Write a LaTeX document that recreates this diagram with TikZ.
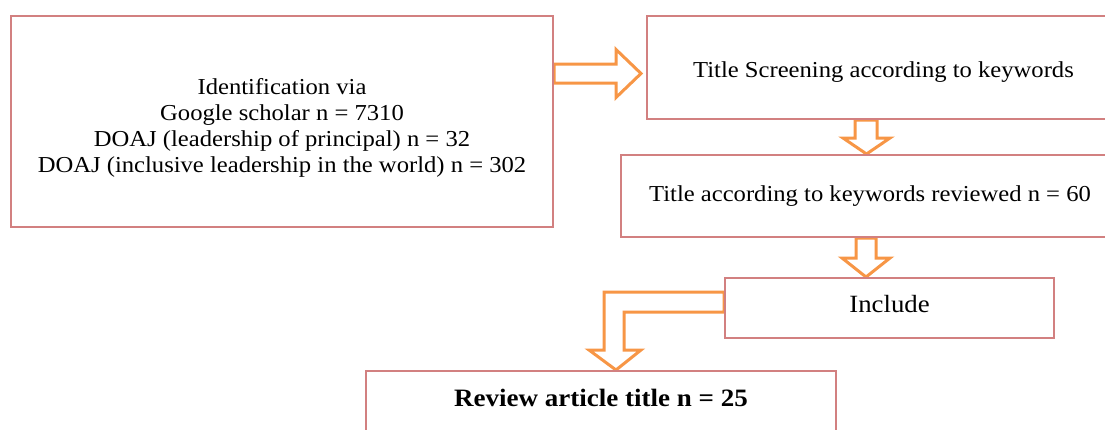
\documentclass[tikz,border=0pt]{standalone}
\usepackage{fontspec}
\setmainfont{Liberation Serif}[FakeStretch=1.08]
\usetikzlibrary{calc}
\pgfdeclarelayer{background}
\pgfsetlayers{background,main}
\definecolor{boxc}{RGB}{210,128,128}
\definecolor{arrc}{RGB}{247,150,70}
\begin{document}
\begin{tikzpicture}[x=1pt,y=-1pt,
  box/.style={draw=boxc, line width=2pt, fill=white, inner sep=0pt},
  txt/.style={align=center, inner sep=0pt, font=\fontsize{22.8}{26}\selectfont},
  fat/.style={draw=arrc, line width=3pt, fill=white, line join=miter}]
\useasboundingbox (0,0) rectangle (1105,429);
\begin{scope}
\clip (0,0) rectangle (1105,429);
\node[box, minimum width=542, minimum height=211] (id) at (282,121.5) {};
\node[txt] (idt) at ($(id.center)+(0,6)$)
  {Identification via\\Google scholar n = 7310\\DOAJ (leadership of principal) n = 32\\DOAJ (inclusive leadership in the world) n = 302};
\node[box, minimum width=473, minimum height=103] (ts) at (883.5,67.5) {};
\node[txt] (tst) at ($(ts.center)+(0,5)$) {Title Screening according to keywords};
\node[box, minimum width=498, minimum height=82] (tr) at (870,196) {};
\node[txt] (trt) at ($(tr.center)+(0,0)$) {Title according to keywords reviewed n = 60};
\node[box, minimum width=329, minimum height=60] (inc) at (889.5,308) {};
\node[txt, font=\fontsize{24.8}{28}\selectfont] (inct) at ($(inc.center)+(0,-4)$) {Include};
\node[box, minimum width=470, minimum height=90, anchor=north west] (rev) at (365,370) {};
\node[txt, font=\fontsize{25}{28}\selectfont\bfseries] (revt) at ($(rev.north)+(0,28)$) {Review article title n = 25};
\end{scope}
\begin{pgfonlayer}{background}
% right arrow
\coordinate (b1) at (id.east |- ts.west);
\draw[fat] ($(b1)+(0,-3.5)$) -- ($(b1)+(62,-3.5)$) -- ($(b1)+(62,-18)$) -- ($(b1)+(87,6)$)
  -- ($(b1)+(62,30)$) -- ($(b1)+(62,15.5)$) -- ($(b1)+(0,15.5)$) -- cycle;
% down arrow 1
\draw[fat] ($(ts.south)+(-28.5,0)$) -- ($(ts.south)+(-6.5,0)$) -- ($(ts.south)+(-6.5,18)$)
  -- ($(ts.south)+(6.5,18)$) -- ($(tr.north)+(-3.5,0)$) -- ($(ts.south)+(-40.5,18)$)
  -- ($(ts.south)+(-28.5,18)$) -- cycle;
% down arrow 2
\draw[fat] ($(tr.south)+(-14,0)$) -- ($(tr.south)+(6,0)$) -- ($(tr.south)+(6,20)$)
  -- ($(tr.south)+(20,20)$) -- ($(inc.north)+(-23.5,0)$) -- ($(tr.south)+(-28,20)$)
  -- ($(tr.south)+(-14,20)$) -- cycle;
% bent arrow
\draw[fat] ($(inc.west)+(0,-16)$) -- ($(inc.west)+(-120,-16)$) -- ($(inc.west)+(-120,42)$)
  -- ($(inc.west)+(-135,42)$) -- ($(rev.north west)+(251,0)$) -- ($(inc.west)+(-83,42)$)
  -- ($(inc.west)+(-100,42)$) -- ($(inc.west)+(-100,4)$) -- ($(inc.west)+(0,4)$) -- cycle;
\end{pgfonlayer}
\end{tikzpicture}
\end{document}
